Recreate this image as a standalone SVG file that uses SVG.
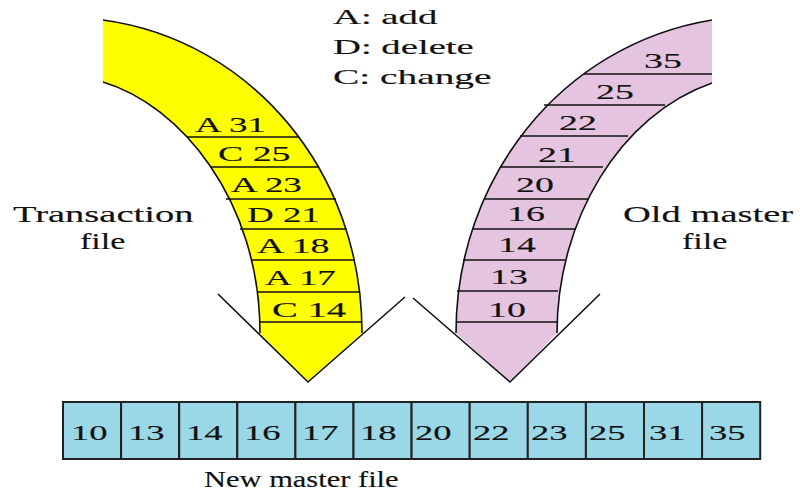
<svg xmlns="http://www.w3.org/2000/svg" width="800" height="495" viewBox="0 0 800 495">
<style>
text{font-family:"Liberation Serif","Times New Roman",serif;font-size:22px;fill:#111;stroke:#111;stroke-width:0.15;}
.side{font-size:23.5px;}
.box{font-size:21.5px;}
.edge{fill:none;stroke:#111;stroke-width:1.6;}
.div{stroke:#111;stroke-width:1.4;}
.yel{fill:#FFFF00;stroke:none;}
.pink{fill:#E4C4DF;stroke:none;}
.cell{fill:#9BD8E7;stroke:#222;stroke-width:2;}
</style>
<rect width="800" height="495" fill="#fff"/>
<g id="legend">
<text transform="translate(333,24) scale(1.76,1)">A: add</text>
<text transform="translate(333,54) scale(1.76,1)">D: delete</text>
<text transform="translate(333,84) scale(1.79,1)">C: change</text>
</g>
<g id="transaction-file">
<path class="yel" d="M103,20 C250,40 362,170 362,333 L308,382 L260,333 C260,200 180,105 103,82 Z"/>
<path class="edge" d="M103,20 C250,40 362,170 362,333"/>
<path class="edge" d="M103,82 C180,105 260,200 260,333"/>
<polyline class="edge" points="218,294 308,382 405,297"/>
<line class="div" x1="187" y1="137" x2="298" y2="137"/>
<line class="div" x1="210" y1="167" x2="318" y2="167"/>
<line class="div" x1="226" y1="199" x2="336" y2="199"/>
<line class="div" x1="240" y1="229" x2="347" y2="229"/>
<line class="div" x1="251" y1="260" x2="355" y2="260"/>
<line class="div" x1="257" y1="292" x2="360" y2="292"/>
<line class="div" x1="260" y1="322" x2="362" y2="322"/>
<text transform="translate(195,132) scale(1.68,1)">A 31</text>
<text transform="translate(218,161) scale(1.72,1)">C 25</text>
<text transform="translate(231,192) scale(1.68,1)">A 23</text>
<text transform="translate(247,222) scale(1.68,1)">D 21</text>
<text transform="translate(257,253) scale(1.72,1)">A 18</text>
<text transform="translate(265,285) scale(1.68,1)">A 17</text>
<text transform="translate(272,317) scale(1.76,1)">C 14</text>
<text class="side" transform="translate(13,222) scale(1.64,1)">Transaction</text>
<text class="side" transform="translate(80,249) scale(1.45,1)">file</text>
</g>
<g id="old-master-file">
<path class="pink" d="M712,20 C560,45 456,180 456,333 L510,382 L557,333 C557,220 620,115 712,83 Z"/>
<path class="edge" d="M712,20 C560,45 456,180 456,333"/>
<path class="edge" d="M712,83 C620,115 557,220 557,333"/>
<polyline class="edge" points="413,298 510,382 600,294"/>
<line class="div" x1="584" y1="74" x2="712" y2="74"/>
<line class="div" x1="544" y1="105" x2="665" y2="105"/>
<line class="div" x1="520" y1="136" x2="628" y2="136"/>
<line class="div" x1="500" y1="167" x2="603" y2="167"/>
<line class="div" x1="484" y1="199" x2="588" y2="199"/>
<line class="div" x1="472" y1="229" x2="575" y2="229"/>
<line class="div" x1="463" y1="260" x2="565" y2="260"/>
<line class="div" x1="457" y1="291" x2="558" y2="291"/>
<line class="div" x1="456" y1="322" x2="557" y2="322"/>
<text transform="translate(644,68) scale(1.72,1)">35</text>
<text transform="translate(596,99) scale(1.72,1)">25</text>
<text transform="translate(559,130) scale(1.72,1)">22</text>
<text transform="translate(538,162) scale(1.72,1)">21</text>
<text transform="translate(516,192) scale(1.72,1)">20</text>
<text transform="translate(507,221) scale(1.72,1)">16</text>
<text transform="translate(498,252) scale(1.72,1)">14</text>
<text transform="translate(490,284) scale(1.72,1)">13</text>
<text transform="translate(488,317) scale(1.72,1)">10</text>
<text class="side" transform="translate(623,222) scale(1.64,1)">Old master</text>
<text class="side" transform="translate(682,249) scale(1.45,1)">file</text>
</g>
<g id="new-master-file">
<rect class="cell" x="63" y="402" width="58.1" height="57"/>
<rect class="cell" x="121.1" y="402" width="58.1" height="57"/>
<rect class="cell" x="179.2" y="402" width="58.1" height="57"/>
<rect class="cell" x="237.3" y="402" width="58.1" height="57"/>
<rect class="cell" x="295.4" y="402" width="58.1" height="57"/>
<rect class="cell" x="353.5" y="402" width="58.1" height="57"/>
<rect class="cell" x="411.6" y="402" width="58.1" height="57"/>
<rect class="cell" x="469.7" y="402" width="58.1" height="57"/>
<rect class="cell" x="527.8" y="402" width="58.1" height="57"/>
<rect class="cell" x="585.9" y="402" width="58.1" height="57"/>
<rect class="cell" x="644" y="402" width="58.1" height="57"/>
<rect class="cell" x="702.1" y="402" width="58.1" height="57"/>
<text class="box" transform="translate(71,440) scale(1.7,1)">10</text>
<text class="box" transform="translate(128,440) scale(1.7,1)">13</text>
<text class="box" transform="translate(186,440) scale(1.7,1)">14</text>
<text class="box" transform="translate(244,440) scale(1.7,1)">16</text>
<text class="box" transform="translate(302,440) scale(1.7,1)">17</text>
<text class="box" transform="translate(360,440) scale(1.7,1)">18</text>
<text class="box" transform="translate(415,440) scale(1.7,1)">20</text>
<text class="box" transform="translate(473,440) scale(1.7,1)">22</text>
<text class="box" transform="translate(531,440) scale(1.7,1)">23</text>
<text class="box" transform="translate(589,440) scale(1.7,1)">25</text>
<text class="box" transform="translate(649,440) scale(1.7,1)">31</text>
<text class="box" transform="translate(709,440) scale(1.7,1)">35</text>
<text transform="translate(204,487) scale(1.27,1)" style="font-size:24px">New master file</text>
</g>
<g id="connectors"></g>
</svg>
